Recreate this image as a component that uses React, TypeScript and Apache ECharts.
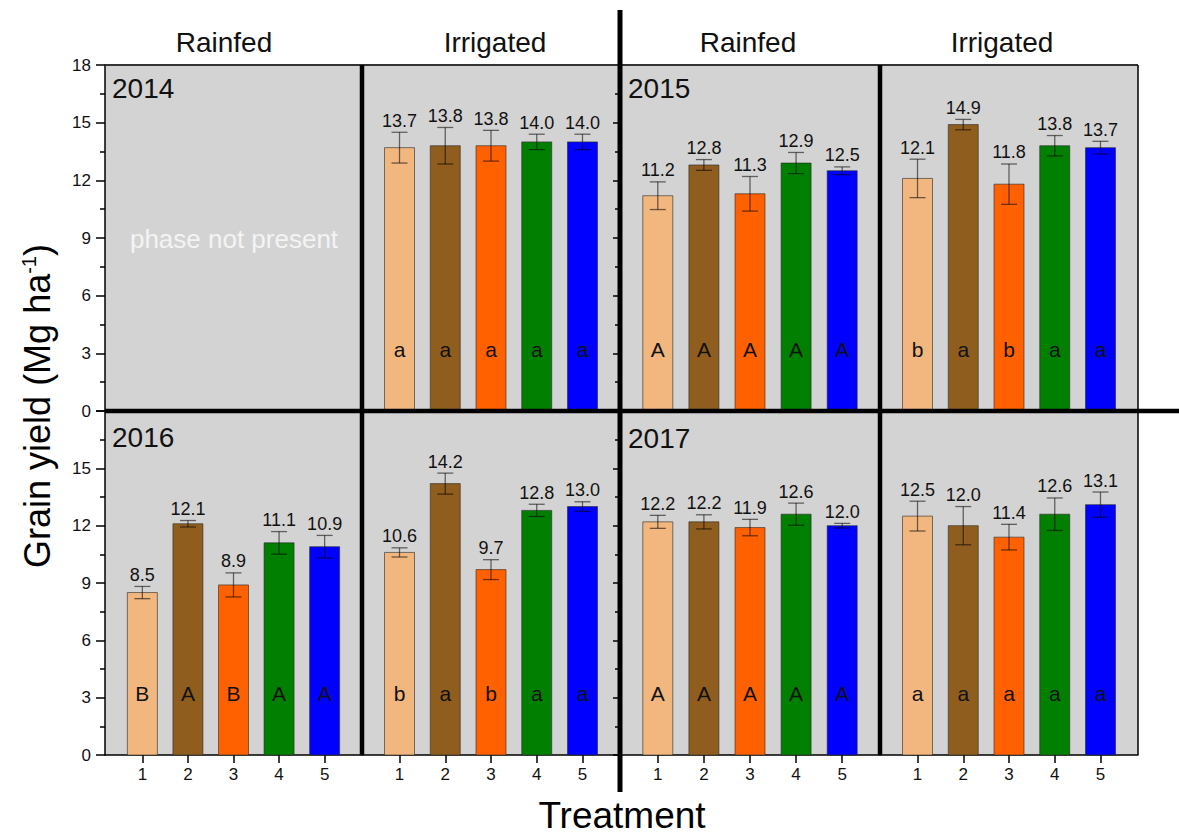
import React, { useEffect, useRef } from "react";
import * as echarts from "echarts";

// ---------- data ----------
const treatments = [1, 2, 3, 4, 5];
const phaseTitles = ["Rainfed", "Irrigated", "Rainfed", "Irrigated"];
const yearLabels = ["2014", "2015", "2016", "2017"];
const yTicks = [0, 3, 6, 9, 12, 15, 18];

const yield2014Irrigated = [13.7, 13.8, 13.8, 14.0, 14.0];
const err2014Irrigated = [0.8, 0.95, 0.8, 0.4, 0.4];
const letters2014Irrigated = ["a", "a", "a", "a", "a"];

const yield2015Rainfed = [11.2, 12.8, 11.3, 12.9, 12.5];
const err2015Rainfed = [0.72, 0.28, 0.9, 0.55, 0.2];
const letters2015Rainfed = ["A", "A", "A", "A", "A"];

const yield2015Irrigated = [12.1, 14.9, 11.8, 13.8, 13.7];
const err2015Irrigated = [1.0, 0.27, 1.05, 0.53, 0.33];
const letters2015Irrigated = ["b", "a", "b", "a", "a"];

const yield2016Rainfed = [8.5, 12.1, 8.9, 11.1, 10.9];
const err2016Rainfed = [0.32, 0.17, 0.63, 0.59, 0.59];
const letters2016Rainfed = ["B", "A", "B", "A", "A"];

const yield2016Irrigated = [10.6, 14.2, 9.7, 12.8, 13.0];
const err2016Irrigated = [0.24, 0.55, 0.52, 0.32, 0.25];
const letters2016Irrigated = ["b", "a", "b", "a", "a"];

const yield2017Rainfed = [12.2, 12.2, 11.9, 12.6, 12.0];
const err2017Rainfed = [0.34, 0.37, 0.43, 0.58, 0.12];
const letters2017Rainfed = ["A", "A", "A", "A", "A"];

const yield2017Irrigated = [12.5, 12.0, 11.4, 12.6, 13.1];
const err2017Irrigated = [0.78, 1.0, 0.67, 0.85, 0.66];
const letters2017Irrigated = ["a", "a", "a", "a", "a"];

// ---------- styles ----------
const treatmentColors = ["#F2B77F", "#8F5E1F", "#FF6100", "#007F00", "#0000FF"];
const FONT = "'Liberation Sans', Arial, Helvetica, sans-serif";

type Panel = { vals: number[] | null; errs: number[] | null; letters: string[] | null };

const panels: Panel[] = [
  { vals: null, errs: null, letters: null },
  { vals: yield2014Irrigated, errs: err2014Irrigated, letters: letters2014Irrigated },
  { vals: yield2015Rainfed, errs: err2015Rainfed, letters: letters2015Rainfed },
  { vals: yield2015Irrigated, errs: err2015Irrigated, letters: letters2015Irrigated },
  { vals: yield2016Rainfed, errs: err2016Rainfed, letters: letters2016Rainfed },
  { vals: yield2016Irrigated, errs: err2016Irrigated, letters: letters2016Irrigated },
  { vals: yield2017Rainfed, errs: err2017Rainfed, letters: letters2017Rainfed },
  { vals: yield2017Irrigated, errs: err2017Irrigated, letters: letters2017Irrigated },
];

// layout
const colLeft = [105, 362, 620, 880];
const colWidth = [257, 258, 260, 258];
const rowTop = [65, 411];
const rowHeight = [346, 344];

function makeRenderItem(letters: string[]) {
  return function (params: any, api: any) {
    const x = api.value(0);
    const y = api.value(1);
    const e = api.value(2);
    const i = params.dataIndex;
    const base = api.coord([x, 0]);
    const top = api.coord([x, y]);
    const hi = api.coord([x, y + e]);
    const lo = api.coord([x, y - e]);
    const lp = api.coord([x, 3.2]);
    const bw = 30;
    const cap = 8;
    const errStyle = { stroke: "rgba(0,0,0,0.55)", lineWidth: 1.3 };
    return {
      type: "group",
      children: [
        {
          type: "rect",
          shape: { x: base[0] - bw / 2, y: top[1], width: bw, height: base[1] - top[1] },
          style: { fill: treatmentColors[i], stroke: "rgba(40,40,40,0.6)", lineWidth: 1 },
        },
        { type: "line", shape: { x1: hi[0], y1: hi[1], x2: lo[0], y2: lo[1] }, style: errStyle },
        { type: "line", shape: { x1: hi[0] - cap, y1: hi[1], x2: hi[0] + cap, y2: hi[1] }, style: errStyle },
        { type: "line", shape: { x1: lo[0] - cap, y1: lo[1], x2: lo[0] + cap, y2: lo[1] }, style: errStyle },
        {
          type: "text",
          x: hi[0],
          y: hi[1] - 2.5,
          style: {
            text: y.toFixed(1),
            fontSize: 18,
            fontFamily: FONT,
            fill: "#111",
            align: "center",
            verticalAlign: "bottom",
          },
        },
        {
          type: "text",
          x: lp[0],
          y: lp[1],
          style: {
            text: letters[i],
            fontSize: 21,
            fontFamily: FONT,
            fill: "#111",
            align: "center",
            verticalAlign: "middle",
          },
        },
      ],
    };
  };
}

export default function App() {
  const ref = useRef<HTMLDivElement>(null);
  useEffect(() => {
    if (!ref.current) return;
    const chart = echarts.init(ref.current, undefined, { renderer: "svg" });

    const grids: any[] = [];
    const xAxes: any[] = [];
    const yAxes: any[] = [];
    const series: any[] = [];

    for (let g = 0; g < 8; g++) {
      const row = Math.floor(g / 4);
      const col = g % 4;
      grids.push({
        left: colLeft[col],
        top: rowTop[row],
        width: colWidth[col],
        height: rowHeight[row],
        show: true,
        backgroundColor: "#D3D3D3",
        borderWidth: 0,
        containLabel: false,
      });
      const bottom = row === 1;
      xAxes.push({
        type: "value",
        gridIndex: g,
        min: 0.18,
        max: 5.82,
        splitLine: { show: false },
        axisLine: { show: bottom, onZero: false, lineStyle: { color: "#000", width: 1.5 } },
        axisTick: {
          show: bottom,
          customValues: treatments,
          length: 8,
          lineStyle: { color: "#000", width: 1.5 },
        },
        axisLabel: {
          show: bottom,
          customValues: treatments,
          fontSize: 17,
          color: "#111",
          fontFamily: FONT,
          margin: 11,
        },
      });
      const leftMost = col === 0;
      const ticked = col === 0 || col === 2;
      yAxes.push({
        type: "value",
        gridIndex: g,
        min: 0,
        max: 18,
        interval: 3,
        splitLine: { show: false },
        axisLine: { show: leftMost, lineStyle: { color: "#000", width: 1.5 } },
        axisTick: {
          show: ticked,
          customValues: yTicks,
          length: leftMost ? 9 : 7,
          lineStyle: { color: "#000", width: 1.5 },
        },
        minorTick: {
          show: ticked,
          splitNumber: 2,
          length: 5,
          lineStyle: { color: "#000", width: 1.5 },
        },
        axisLabel: {
          show: leftMost,
          fontSize: 17,
          color: "#111",
          fontFamily: FONT,
          margin: 14,
          formatter: (v: number) => (row === 1 && v === 18 ? "" : String(v)),
        },
      });
      const p = panels[g];
      if (p.vals && p.errs && p.letters) {
        series.push({
          type: "custom",
          xAxisIndex: g,
          yAxisIndex: g,
          renderItem: makeRenderItem(p.letters),
          encode: { x: 0, y: 1 },
          data: treatments.map((t, i) => [t, p.vals![i], p.errs![i]]),
          z: 3,
        });
      }
    }

    const titleX = [224, 495, 748, 1002];
    const graphic: any[] = [];
    phaseTitles.forEach((t, i) => {
      graphic.push({
        type: "text",
        x: titleX[i],
        y: 42,
        z: 20,
        style: { text: t, fontSize: 28, fontFamily: FONT, fill: "#111", align: "center", verticalAlign: "middle" },
      });
    });
    const yearPos = [
      [112, 88],
      [628, 88],
      [112, 437],
      [628, 438],
    ];
    yearLabels.forEach((t, i) => {
      graphic.push({
        type: "text",
        x: yearPos[i][0],
        y: yearPos[i][1],
        z: 20,
        style: { text: t, fontSize: 28, fontFamily: FONT, fill: "#111", align: "left", verticalAlign: "middle" },
      });
    });
    graphic.push({
      type: "text",
      x: 234,
      y: 239,
      z: 20,
      style: {
        text: "phase not present",
        fontSize: 26,
        fontFamily: FONT,
        fill: "#F4F4F4",
        align: "center",
        verticalAlign: "middle",
      },
    });
    // borders
    graphic.push({ type: "line", z: 20, shape: { x1: 105, y1: 65, x2: 1138, y2: 65 }, style: { stroke: "#333", lineWidth: 2 } });
    graphic.push({ type: "line", z: 20, shape: { x1: 1138, y1: 65, x2: 1138, y2: 755 }, style: { stroke: "#000", lineWidth: 1.5 } });
    // thick separators
    graphic.push({ type: "line", z: 21, shape: { x1: 362, y1: 65, x2: 362, y2: 755 }, style: { stroke: "#000", lineWidth: 4.5 } });
    graphic.push({ type: "line", z: 21, shape: { x1: 880, y1: 65, x2: 880, y2: 755 }, style: { stroke: "#000", lineWidth: 4.5 } });
    graphic.push({ type: "line", z: 21, shape: { x1: 620, y1: 10, x2: 620, y2: 792 }, style: { stroke: "#000", lineWidth: 5 } });
    graphic.push({ type: "line", z: 21, shape: { x1: 105, y1: 411, x2: 1179, y2: 411 }, style: { stroke: "#000", lineWidth: 4.5 } });
    // axis titles
    graphic.push({
      type: "text",
      x: 37,
      y: 406,
      rotation: Math.PI / 2,
      z: 20,
      style: {
        text: "{a|Grain yield (Mg ha}{s|-1}{a|)}",
        align: "center",
        verticalAlign: "middle",
        fill: "#000",
        rich: {
          a: { fontSize: 36, fontFamily: FONT, fill: "#000" },
          s: { fontSize: 20, fontFamily: FONT, fill: "#000", verticalAlign: "top" },
        },
      },
    });
    graphic.push({
      type: "text",
      x: 622,
      y: 834,
      z: 20,
      style: { text: "Treatment", fontSize: 37, fontFamily: FONT, fill: "#000", align: "center", verticalAlign: "bottom" },
    });

    chart.setOption({
      animation: false,
      backgroundColor: "#fff",
      grid: grids,
      xAxis: xAxes,
      yAxis: yAxes,
      series,
      graphic,
    });
    return () => chart.dispose();
  }, []);
  return (
    <div
      ref={ref}
      style={{ position: "fixed", left: 0, top: 0, width: 1179, height: 835 }}
    />
  );
}
